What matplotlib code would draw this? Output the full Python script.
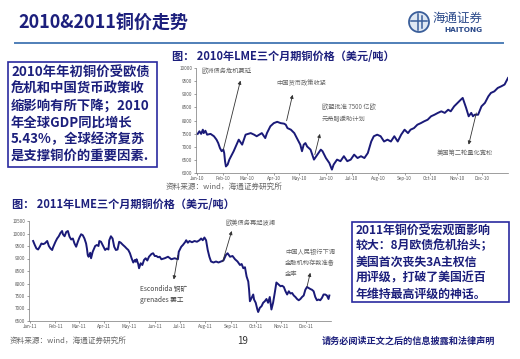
import matplotlib
matplotlib.use('Agg')
import matplotlib.pyplot as plt
import matplotlib.dates as mdates
from matplotlib.patches import Circle, Rectangle
import pandas as pd

plt.rcParams['font.family'] = ['Noto Sans CJK SC', 'DejaVu Sans']

# 2010 LME 3-month copper (day of year, USD/t)
days_2010 = [1, 3, 5, 7, 8, 10, 12, 16, 20, 23, 25, 27, 29, 31, 32, 33, 34, 36, 38, 41,
             43, 49, 53, 57, 63, 67, 70, 76, 80, 82, 86, 90, 94, 98, 102, 104, 106, 110, 114, 117,
             121, 123, 125, 127, 129, 133, 137, 141, 145, 147, 151, 155, 158, 160, 164, 168, 172, 176, 180, 184,
             188, 192, 196, 200, 204, 207, 211, 215, 219, 223, 227, 231, 235, 239, 243, 247, 250, 254, 258, 262,
             266, 270, 274, 278, 282, 286, 290, 294, 297, 301, 305, 309, 311, 313, 315, 318, 321, 323, 325, 329,
             333, 337, 341, 344, 348, 352, 356, 360, 364]
price_2010 = [7490, 7590, 7490, 7650, 7520, 7610, 7460, 7490, 7400, 7270, 7140, 6950, 6830, 6890, 6760, 6440, 6250, 6320, 6510, 6700,
              6825, 7270, 7080, 7460, 7520, 7460, 7400, 7520, 7330, 7520, 7780, 7900, 7950, 7900, 7880, 7840, 7710, 7650, 7520, 7330,
              7080, 6830, 7080, 7140, 7010, 6890, 6510, 6700, 6890, 6830, 6570, 6380, 6130, 6320, 6510, 6450, 6640, 6450, 6510, 6700,
              6570, 6640, 6570, 6760, 7200, 7400, 7460, 7400, 7200, 7270, 7200, 7400, 7200, 7460, 7650, 7520, 7650, 7710, 7840, 7900,
              7970, 8030, 8160, 8220, 8290, 8350, 8290, 8410, 8350, 8540, 8670, 8800, 8860, 8670, 8480, 8160, 8290, 8160, 8220, 8220,
              8540, 8670, 8920, 9050, 9110, 9240, 9300, 9370, 9620]

# 2011 LME 3-month copper (day of year, USD/t)
days_2011 = [4, 6, 8, 10, 12, 14, 16, 18, 20, 21, 23, 25, 27, 28, 31, 33, 35, 37, 39, 40,
             42, 44, 46, 48, 50, 52, 54, 56, 58, 60, 62, 64, 66, 68, 69, 70, 71, 73, 74, 76,
             79, 81, 83, 84, 86, 89, 91, 93, 95, 96, 98, 100, 102, 104, 106, 108, 110, 112, 115, 117,
             119, 121, 123, 125, 127, 128, 129, 131, 132, 134, 136, 138, 140, 142, 144, 147, 149, 151, 153, 155,
             157, 159, 163, 167, 171, 175, 179, 180, 183, 185, 188, 189, 191, 193, 196, 199, 202, 205, 207, 209,
             211, 213, 215, 217, 219, 222, 225, 228, 231, 234, 237, 239, 242, 245, 248, 251, 254, 256, 258, 260,
             262, 264, 265, 266, 268, 270, 271, 273, 275, 276, 278, 280, 282, 284, 286, 288, 290, 292, 294, 296,
             298, 301, 303, 305, 307, 309, 311, 313, 315, 317, 319, 321, 323, 325, 327, 329, 331, 333, 335, 337,
             339, 341, 343, 345, 347, 349, 351, 353, 355, 357, 359, 361, 362]
price_2011 = [9700, 9540, 9400, 9360, 9470, 9600, 9575, 9600, 9670, 9700, 9500, 9400, 9340, 9440, 9670, 9800, 9890, 10020, 10100, 9970,
              9890, 10060, 10100, 9870, 9760, 9800, 9600, 9470, 9670, 9840, 9970, 9930, 9800, 9600, 9400, 9140, 9070, 9230, 9010, 9270,
              9500, 9540, 9500, 9700, 9670, 9470, 9340, 9400, 9360, 9730, 9890, 9800, 9470, 9340, 9360, 9670, 9630, 9560, 9470, 9400,
              9340, 9210, 9010, 8840, 8940, 8870, 8970, 8780, 8610, 8810, 8740, 8940, 9010, 8920, 9070, 9180, 9210, 9100, 9100, 9050,
              9070, 8970, 9010, 9070, 8970, 9010, 8970, 9270, 9470, 9540, 9670, 9730, 9630, 9700, 9650, 9700, 9670, 9730, 9800, 9730,
              9840, 9730, 9340, 9070, 8880, 8840, 8880, 8840, 8880, 8920, 9140, 9210, 9070, 9100, 8970, 8880, 8740, 8780, 8610, 8650,
              8280, 8080, 7750, 7290, 7420, 7560, 7360, 7230, 6960, 6860, 7030, 7090, 7230, 7290, 7380, 7230, 7460, 6960, 7230, 7620,
              8040, 7950, 7890, 7910, 7860, 7690, 7560, 7690, 7600, 7620, 7520, 7460, 7380, 7330, 7380, 7460, 7520, 7750, 7860, 7820,
              7780, 7750, 7690, 7460, 7330, 7360, 7330, 7420, 7560, 7560, 7520, 7380, 7520]

notes_2010 = ['欧洲债务危机蔓延', '中国货币政策收紧', '欧盟批准 7500 亿欧\n元希腊援助计划', '美国第二轮量化宽松']
notes_2011 = ['欧美债务再起波澜', 'Escondida 铜矿\ngrenades 罢工', '中国人民银行下调\n金融机构存款准备\n金率']

box1_text = '2010年年初铜价受欧债\n危机和中国货币政策收\n缩影响有所下降；2010\n年全球GDP同比增长\n5.43%，全球经济复苏\n是支撑铜价的重要因素.'
box2_text = '2011年铜价受宏观面影响\n较大：8月欧债危机抬头；\n美国首次丧失3A主权信\n用评级，打破了美国近百\n年维持最高评级的神话。'

NAVY = '#1c1f7c'
LINE = '#1a1a78'
W, H = 520, 359


def px(x, y):
    return x / W, 1 - y / H


def to_dates(year, d):
    return pd.Timestamp(f'{year}-01-01') + pd.to_timedelta(d, unit='D')


fig = plt.figure(figsize=(5.2, 3.59), dpi=100)
fig.patch.set_facecolor('white')

# header
fig.text(*px(18, 22), '2010&2011铜价走势', fontsize=13, fontweight='bold', color=NAVY, va='center')
fig.add_artist(plt.Line2D([15 / W, 503 / W], [1 - 43 / H] * 2, color='#4f7fb8', lw=1.4))

# logo
lax = fig.add_axes([408 / W, 1 - 33 / H, 22 / W, 22 / H])
lax.set_xlim(-1.1, 1.1)
lax.set_ylim(-1.1, 1.1)
lax.set_aspect('equal')
lax.axis('off')
lax.add_patch(Circle((0, 0), 1, facecolor='#dfe8f3', edgecolor='#3a5e9a', lw=1.3))
lax.plot([-0.8, 0.8], [0.1, 0.1], color='#3a5e9a', lw=1.1)
lax.plot([-0.15, -0.15], [-0.8, 0.8], color='#3a5e9a', lw=1.1)
lax.plot([0.25, 0.25], [-0.6, 0.6], color='#3a5e9a', lw=1.1)

fig.text(*px(433, 18), '海通证券', fontsize=9, color='#2b4a8a', va='center', ha='left')
fig.text(*px(444, 30), 'HAITONG', fontsize=5.3, fontweight='bold', color='#2b4a8a', va='center',
         ha='left', family='DejaVu Sans')

tick_kw = dict(labelsize=3.3, colors='#555555', length=1.5, width=0.4, pad=1)


def style_axes(ax, year, ylo, yhi):
    ax.set_ylim(ylo, yhi)
    ax.set_yticks(range(ylo, yhi + 1, 500))
    ax.set_xlim(to_dates(year, -1), to_dates(year, 364))
    ax.xaxis.set_major_locator(mdates.MonthLocator())
    ax.xaxis.set_major_formatter(mdates.DateFormatter('%b-%y'))
    for s in ['top', 'right']:
        ax.spines[s].set_visible(False)
    for s in ['left', 'bottom']:
        ax.spines[s].set_color('#777777')
        ax.spines[s].set_linewidth(0.5)
    ax.tick_params(**tick_kw)
    ax.set_facecolor('none')


arrow_kw = dict(arrowstyle='-|>', color='#333333', lw=0.6, mutation_scale=5, shrinkA=0, shrinkB=0)

# chart 1
fig.text(*px(172, 57), '图： 2010年LME三个月期铜价格（美元/吨）', fontsize=8, fontweight='bold',
         color=NAVY, va='center')
ax1 = fig.add_axes([196 / W, 1 - 173 / H, 312 / W, 105 / H])
ax1.plot(to_dates(2010, days_2010), price_2010, color=LINE, lw=1.4)
style_axes(ax1, 2010, 6000, 10000)

arrows_2010 = [((31, 6890), (51, 9520)), ((105, 7990), (112, 8980)),
               ((138, 6700), (144, 7490)), ((327, 8290), (318, 7080))]
for (t, h) in arrows_2010:
    ax1.annotate('', xy=(to_dates(2010, h[0]), h[1]), xytext=(to_dates(2010, t[0]), t[1]),
                 arrowprops=arrow_kw)

note_pos_2010 = [(202, 71), (276, 83), (322, 113), (437, 153)]
for txt, (x, y) in zip(notes_2010, note_pos_2010):
    fig.text(*px(x, y), txt, fontsize=4.5, color='#666666', va='center', linespacing=1.6)

fig.text(*px(166, 187), '资料来源：wind，海通证券研究所', fontsize=5.5, color='#666666', va='center')

# chart 2
fig.text(*px(12, 204), '图： 2011年LME三个月期铜价格（美元/吨）', fontsize=8, fontweight='bold',
         color=NAVY, va='center')
ax2 = fig.add_axes([29 / W, 1 - 321 / H, 302 / W, 100 / H])
ax2.plot(to_dates(2011, days_2011), price_2011, color=LINE, lw=1.4)
style_axes(ax2, 2011, 6500, 10500)

arrows_2011 = [((233, 8870), (244, 10100)), ((179, 9130), (174, 8160)), ((335, 7870), (339, 8430))]
for (t, h) in arrows_2011:
    ax2.annotate('', xy=(to_dates(2011, h[0]), h[1]), xytext=(to_dates(2011, t[0]), t[1]),
                 arrowprops=arrow_kw)

fig.text(*px(225, 223), notes_2011[0], fontsize=4.5, color='#666666', va='center')
fig.text(*px(140, 294), notes_2011[1], fontsize=4.8, color='#444444', va='center', linespacing=1.5)
fig.text(*px(285, 263), notes_2011[2], fontsize=4.5, color='#666666', va='center', linespacing=1.5)

fig.text(*px(10, 341), '资料来源：wind，海通证券研究所', fontsize=5.5, color='#666666', va='center')

# text boxes
fig.add_artist(Rectangle(px(8, 167), 149 / W, 105 / H, transform=fig.transFigure,
                         facecolor='white', edgecolor='#2a2aa0', lw=1.2))
fig.text(*px(11, 114), box1_text, fontsize=9.6, fontweight='bold', color=NAVY, va='center',
         linespacing=1.25)

fig.add_artist(Rectangle(px(352, 302), 157 / W, 80 / H, transform=fig.transFigure,
                         facecolor='white', edgecolor='#2a2aa0', lw=1.2))
fig.text(*px(356, 262), box2_text, fontsize=8.6, fontweight='bold', color=NAVY, va='center',
         linespacing=1.3)

# footer
fig.text(*px(243, 341), '19', fontsize=7, color='#333333', va='center', ha='center')
fig.text(*px(322, 341), '请务必阅读正文之后的信息披露和法律声明', fontsize=6.6, fontweight='bold',
         color=NAVY, va='center')

fig.savefig('out.png', dpi=100)
